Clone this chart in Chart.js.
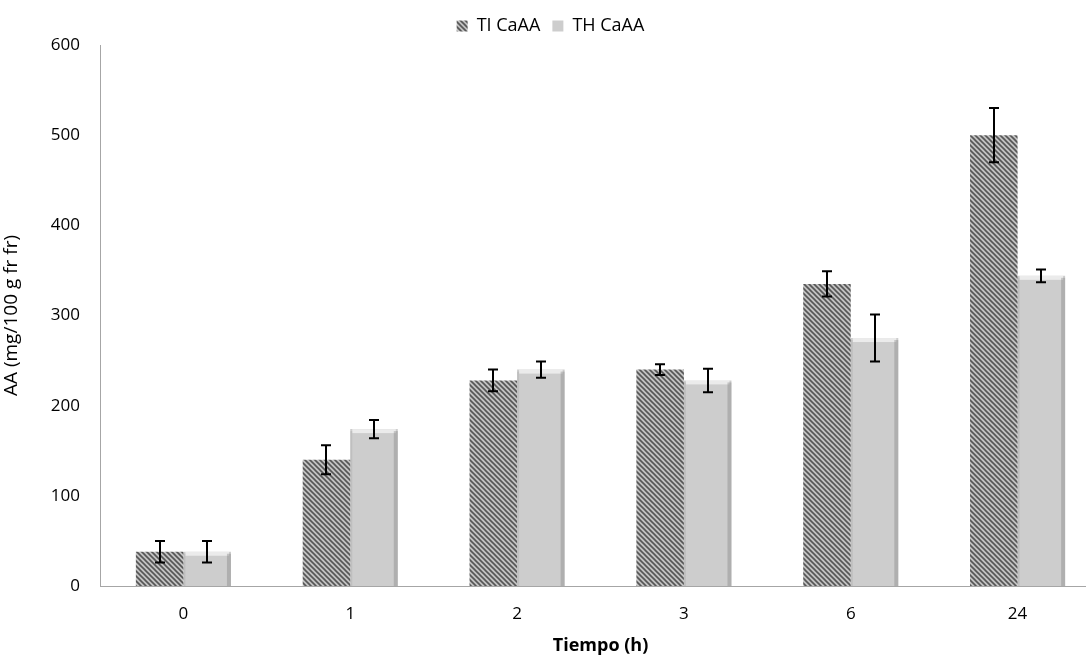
<!DOCTYPE html>
<html>
<head>
<meta charset="utf-8">
<script src="https://cdn.jsdelivr.net/npm/chart.js@4.4.0/dist/chart.umd.min.js"></script>
<style>
    html, body { margin: 0; padding: 0; background: #fff; overflow: hidden; }
    #wrap { width: 1101px; height: 659px; }
</style>
</head>
<body>
<div id="wrap"><canvas id="chart"></canvas></div>
<script>
// Data
const categories = ['0', '1', '2', '3', '6', '24'];
const tiValues = [38, 140, 228, 240, 335, 500];
const tiErrors = [12, 16, 12, 6, 14, 30];
const thValues = [38, 174, 240, 228, 275, 344];
const thErrors = [12, 10, 9, 13, 26, 7];
const yTicks = [0, 100, 200, 300, 400, 500, 600];

const FONT = '"Open Sans", "Noto Sans", sans-serif';

// Diagonal hatch for the TI series
function makeHatch() {
    const size = 5;
    const c = document.createElement('canvas');
    c.width = size;
    c.height = size;
    const g = c.getContext('2d');
    g.fillStyle = '#c2c2c2';
    g.fillRect(0, 0, size, size);
    g.strokeStyle = '#555555';
    g.lineWidth = 1.6;
    g.beginPath();
    // lines running top-left to bottom-right
    g.moveTo(-1, -1); g.lineTo(size + 1, size + 1);
    g.moveTo(-1 - size, -1); g.lineTo(1, size + 1);
    g.moveTo(size - 1, -1); g.lineTo(2 * size + 1, size + 1);
    g.stroke();
    return g.createPattern(c, 'repeat');
}

const hatch = makeHatch();

// Soft bevel on the plain gray bars
const bevelPlugin = {
    id: 'bevel',
    afterDatasetsDraw(chart) {
        const ctx = chart.ctx;
        const meta = chart.getDatasetMeta(1);
        ctx.save();
        meta.data.forEach(bar => {
            const left = bar.x - bar.width / 2;
            const right = bar.x + bar.width / 2;
            const top = bar.y;
            const bottom = bar.base;
            ctx.fillStyle = 'rgba(255,255,255,0.6)';
            ctx.fillRect(left + 2, top, right - left - 4, 4);
            ctx.fillStyle = 'rgba(120,120,120,0.35)';
            ctx.fillRect(right - 4, top + 2, 4, bottom - top - 2);
            ctx.fillStyle = 'rgba(150,150,150,0.25)';
            ctx.fillRect(left, top + 2, 2, bottom - top - 2);
        });
        ctx.restore();
    }
};

// Error bars from the named error arrays
const errorBarPlugin = {
    id: 'errorBars',
    afterDatasetsDraw(chart) {
        const ctx = chart.ctx;
        const y = chart.scales.y;
        const errs = [tiErrors, thErrors];
        ctx.save();
        ctx.strokeStyle = '#000';
        ctx.lineWidth = 2;
        chart.data.datasets.forEach((ds, di) => {
            const meta = chart.getDatasetMeta(di);
            meta.data.forEach((bar, i) => {
                const v = ds.data[i];
                const yt = y.getPixelForValue(v + errs[di][i]);
                const yb = y.getPixelForValue(v - errs[di][i]);
                const x = Math.round(bar.x);
                ctx.beginPath();
                ctx.moveTo(x, yt); ctx.lineTo(x, yb);
                ctx.moveTo(x - 5, yt); ctx.lineTo(x + 5, yt);
                ctx.moveTo(x - 5, yb); ctx.lineTo(x + 5, yb);
                ctx.stroke();
            });
        });
        ctx.restore();
    }
};

new Chart(document.getElementById('chart'), {
    type: 'bar',
    data: {
        labels: categories,
        datasets: [
            {
                label: 'TI CaAA',
                data: tiValues,
                backgroundColor: hatch,
                borderWidth: 0,
                barPercentage: 1,
                categoryPercentage: 0.57
            },
            {
                label: 'TH CaAA',
                data: thValues,
                backgroundColor: '#cdcdcd',
                borderWidth: 0,
                barPercentage: 1,
                categoryPercentage: 0.57
            }
        ]
    },
    options: {
        responsive: true,
        maintainAspectRatio: false,
        animation: false,
        layout: { padding: { top: 5, right: 0, left: 0, bottom: 0 } },
        plugins: {
            tooltip: { enabled: false },
            legend: {
                display: true,
                position: 'top',
                labels: {
                    color: '#000',
                    boxWidth: 11,
                    boxHeight: 11,
                    padding: 12,
                    font: { family: FONT, size: 18 }
                }
            }
        },
        scales: {
            x: {
                afterFit: scale => { scale.height = 73; },
                grid: { display: false, drawTicks: false },
                border: { display: true, color: '#a6a6a6', width: 1 },
                ticks: {
                    color: '#000',
                    padding: 18,
                    font: { family: FONT, size: 17 }
                },
                title: {
                    display: true,
                    text: 'Tiempo (h)',
                    color: '#000',
                    padding: { top: 4, bottom: 2 },
                    font: { family: FONT, size: 18, weight: 'bold' }
                }
            },
            y: {
                min: 0,
                max: 600,
                afterBuildTicks: scale => {
                    scale.ticks = yTicks.map(v => ({ value: v }));
                },
                afterFit: scale => { scale.width = 100; },
                grid: { display: false, drawTicks: false },
                border: { display: true, color: '#a6a6a6', width: 1 },
                ticks: {
                    color: '#000',
                    padding: 20,
                    font: { family: FONT, size: 17 }
                },
                title: {
                    display: true,
                    text: 'AA (mg/100 g fr fr)',
                    color: '#000',
                    padding: { top: 0, bottom: 4 },
                    font: { family: FONT, size: 19 }
                }
            }
        }
    },
    plugins: [bevelPlugin, errorBarPlugin]
});
</script>
</body>
</html>
